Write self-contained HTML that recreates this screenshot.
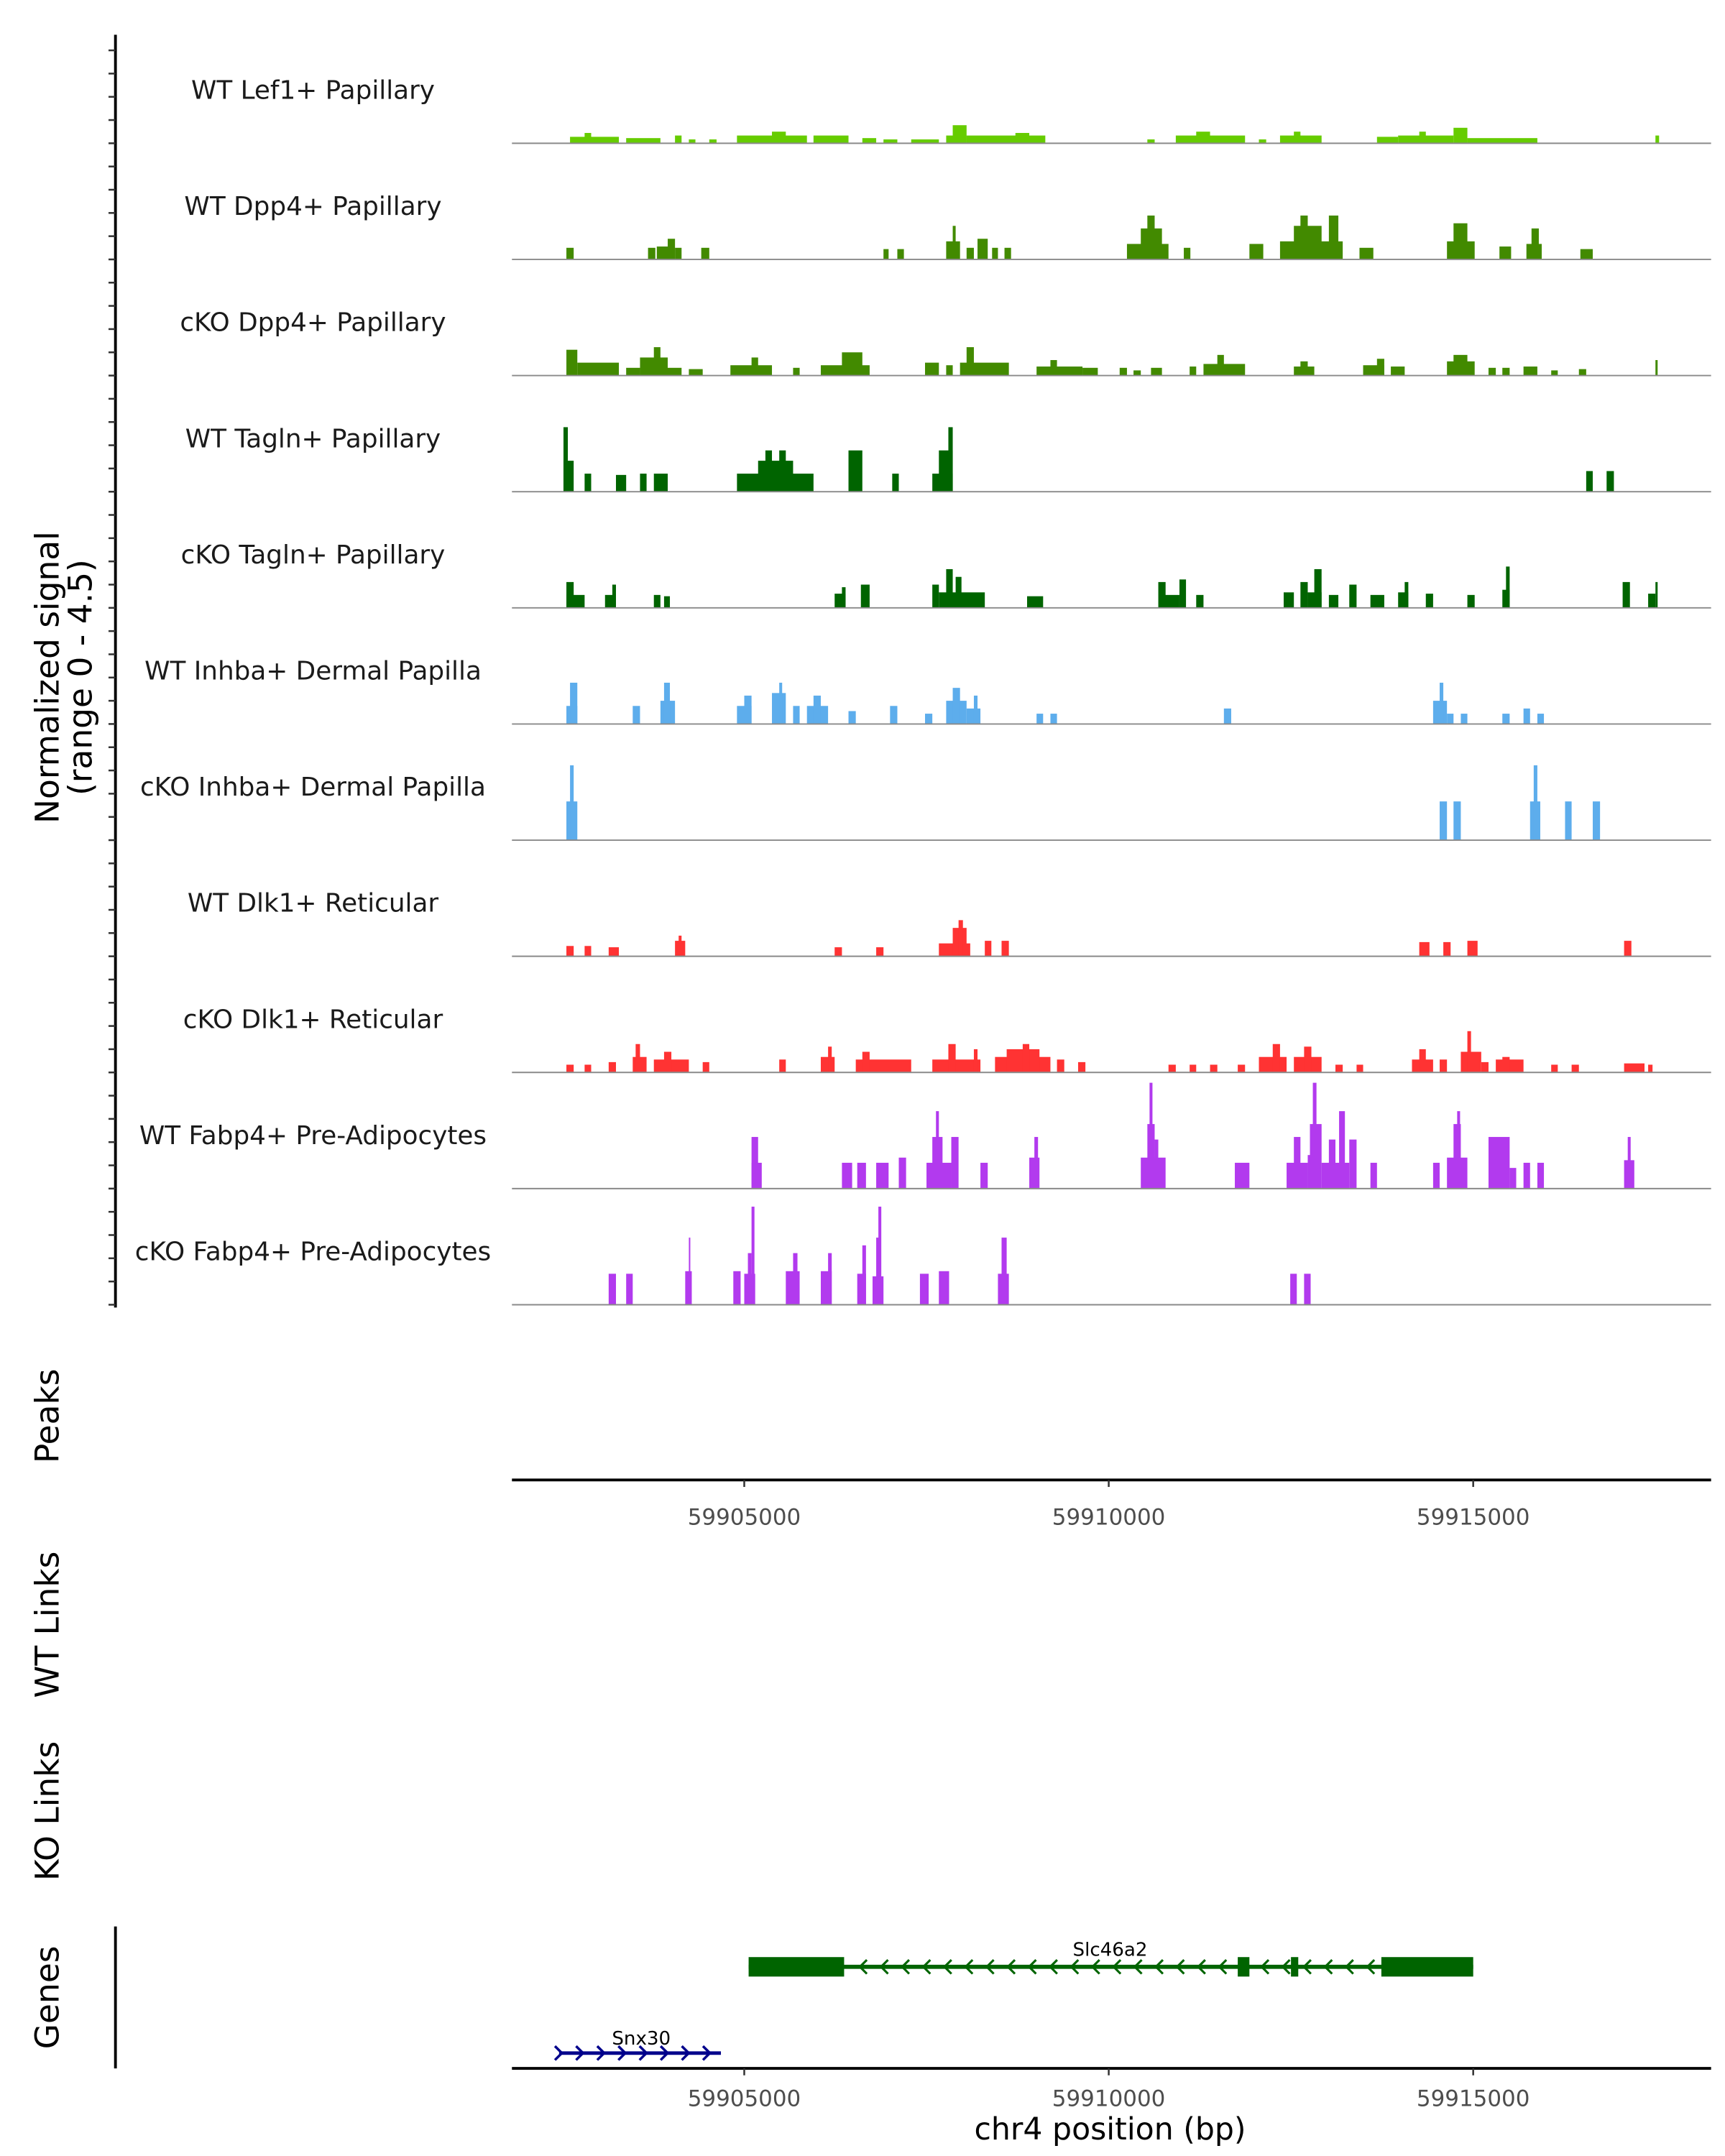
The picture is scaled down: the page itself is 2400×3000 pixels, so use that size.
<!DOCTYPE html>
<html><head><meta charset="utf-8"><style>html,body{margin:0;padding:0;background:#fff}svg{display:block}</style></head>
<body>
<svg id="chart" xmlns="http://www.w3.org/2000/svg" width="2400" height="3000" viewBox="0 0 1240 1550" font-family="DejaVu Sans, Liberation Sans, sans-serif">
<rect width="1240" height="1550" fill="#fff"/>
<g id="tracks"></g>
<g id="axes"></g>
<g id="genes"></g>
</svg>
<script>
// positions in kb offset from 59,900,000 bp; signal values in range 0-4.5
const trackNames = ["WT Lef1+ Papillary","WT Dpp4+ Papillary","cKO Dpp4+ Papillary","WT Tagln+ Papillary","cKO Tagln+ Papillary","WT Inhba+ Dermal Papilla","cKO Inhba+ Dermal Papilla","WT Dlk1+ Reticular","cKO Dlk1+ Reticular","WT Fabp4+ Pre-Adipocytes","cKO Fabp4+ Pre-Adipocytes"];
const trackColors = ["#66cc00","#428a00","#428a00","#006400","#006400","#5dadec","#5dadec","#ff3333","#ff3333","#b23aee","#b23aee"];
const sigLef1WT = [[2.61,3.28,0.25],[2.81,2.90,0.4],[3.38,3.85,0.2],[4.05,4.14,0.3],[4.24,4.33,0.15],[4.52,4.62,0.15],[4.90,5.86,0.3],[5.38,5.57,0.45],[5.95,6.43,0.3],[6.62,6.81,0.2],[6.91,7.10,0.15],[7.29,7.67,0.15],[7.77,8.05,0.3],[7.86,8.05,0.7],[8.05,9.13,0.3],[8.72,8.91,0.4],[10.53,10.63,0.15],[10.92,11.87,0.3],[11.20,11.39,0.45],[12.06,12.16,0.15],[12.35,12.92,0.3],[12.54,12.63,0.45],[13.68,13.97,0.25],[13.97,14.73,0.3],[14.26,14.35,0.45],[14.73,14.92,0.6],[14.92,15.88,0.2],[17.50,17.55,0.3]];
const sigDpp4WT = [[2.56,2.66,0.45],[3.68,3.78,0.45],[3.80,3.95,0.5],[3.95,4.05,0.8],[4.05,4.14,0.45],[4.41,4.52,0.45],[6.91,6.98,0.4],[7.10,7.19,0.4],[7.77,7.96,0.7],[7.86,7.90,1.3],[8.05,8.15,0.45],[8.20,8.34,0.8],[8.40,8.48,0.45],[8.57,8.66,0.45],[10.25,10.82,0.6],[10.44,10.73,1.2],[10.53,10.63,1.7],[11.03,11.12,0.45],[11.93,12.12,0.6],[12.35,13.21,0.7],[12.54,12.92,1.3],[12.63,12.73,1.7],[13.02,13.15,1.7],[13.44,13.63,0.45],[14.64,15.02,0.7],[14.73,14.92,1.4],[15.36,15.52,0.5],[15.73,15.94,0.6],[15.80,15.90,1.2],[16.47,16.64,0.4]];
const sigDpp4KO = [[2.56,2.71,1.0],[2.71,3.28,0.5],[3.38,3.57,0.3],[3.57,3.95,0.7],[3.76,3.85,1.1],[3.95,4.14,0.3],[4.24,4.43,0.25],[4.81,5.38,0.4],[5.10,5.19,0.7],[5.67,5.76,0.3],[6.05,6.72,0.4],[6.34,6.62,0.9],[7.48,7.67,0.5],[7.77,7.86,0.4],[7.96,8.63,0.5],[8.05,8.15,1.1],[9.01,9.64,0.35],[9.20,9.29,0.6],[9.64,9.85,0.3],[10.15,10.25,0.3],[10.34,10.44,0.2],[10.58,10.73,0.3],[11.11,11.20,0.35],[11.30,11.87,0.45],[11.49,11.58,0.8],[12.54,12.82,0.35],[12.63,12.73,0.55],[13.49,13.78,0.4],[13.68,13.78,0.65],[13.87,14.06,0.35],[14.64,15.02,0.55],[14.73,14.92,0.8],[15.21,15.31,0.3],[15.40,15.50,0.3],[15.69,15.88,0.35],[16.07,16.16,0.2],[16.45,16.55,0.25],[17.50,17.53,0.6]];
const sigTaglnWT = [[2.52,2.66,1.2],[2.52,2.58,2.5],[2.81,2.90,0.7],[3.24,3.38,0.65],[3.57,3.66,0.7],[3.76,3.95,0.7],[4.90,5.95,0.7],[5.19,5.67,1.2],[5.29,5.38,1.6],[5.48,5.57,1.6],[6.43,6.62,1.6],[7.03,7.12,0.7],[7.58,7.86,0.7],[7.67,7.86,1.6],[7.80,7.86,2.5],[16.55,16.64,0.8],[16.83,16.93,0.8]];
const sigTaglnKO = [[2.56,2.66,1.0],[2.56,2.81,0.5],[3.09,3.24,0.5],[3.19,3.24,0.9],[3.76,3.85,0.5],[3.90,3.98,0.45],[6.24,6.39,0.55],[6.34,6.39,0.8],[6.60,6.72,0.9],[7.58,7.67,0.9],[7.67,8.30,0.6],[7.77,7.86,1.5],[7.90,7.98,1.2],[8.88,9.10,0.45],[10.68,10.78,1.0],[10.73,10.97,0.5],[10.97,11.06,1.1],[11.20,11.30,0.5],[12.40,12.54,0.6],[12.63,12.73,1.0],[12.73,12.92,0.6],[12.82,12.92,1.5],[13.02,13.15,0.5],[13.30,13.40,0.9],[13.59,13.78,0.5],[13.97,14.11,0.6],[14.06,14.11,1.0],[14.35,14.45,0.55],[14.92,15.02,0.5],[15.40,15.50,0.7],[15.45,15.50,1.6],[17.05,17.15,1.0],[17.40,17.50,0.55],[17.50,17.53,1.0]];
const sigInhbaWT = [[2.56,2.71,0.7],[2.61,2.71,1.6],[3.47,3.57,0.7],[3.85,4.05,0.9],[3.90,3.98,1.6],[4.90,5.10,0.7],[5.00,5.10,1.1],[5.38,5.57,1.2],[5.48,5.52,1.6],[5.67,5.76,0.7],[5.86,6.15,0.7],[5.95,6.05,1.1],[6.43,6.53,0.5],[7.00,7.10,0.7],[7.48,7.58,0.4],[7.77,8.05,0.9],[7.86,7.96,1.4],[8.05,8.24,0.6],[8.15,8.20,1.1],[9.01,9.10,0.4],[9.20,9.29,0.4],[11.58,11.68,0.6],[14.45,14.64,0.9],[14.54,14.59,1.6],[14.64,14.73,0.4],[14.83,14.92,0.4],[15.40,15.50,0.4],[15.69,15.78,0.6],[15.88,15.97,0.4]];
const sigInhbaKO = [[2.56,2.71,1.5],[2.61,2.66,2.9],[14.54,14.64,1.5],[14.73,14.83,1.5],[15.78,15.92,1.5],[15.83,15.88,2.9],[16.26,16.35,1.5],[16.64,16.74,1.5]];
const sigDlk1WT = [[2.56,2.66,0.4],[2.81,2.90,0.4],[3.14,3.28,0.35],[4.05,4.19,0.6],[4.10,4.14,0.8],[6.24,6.34,0.35],[6.81,6.91,0.35],[7.67,8.10,0.5],[7.86,8.05,1.1],[7.94,8.00,1.4],[8.30,8.39,0.6],[8.53,8.63,0.6],[14.26,14.40,0.55],[14.59,14.69,0.55],[14.92,15.06,0.6],[17.07,17.17,0.6]];
const sigDlk1KO = [[2.56,2.66,0.3],[2.81,2.90,0.3],[3.14,3.24,0.4],[3.47,3.66,0.6],[3.51,3.57,1.1],[3.76,4.24,0.5],[3.90,4.00,0.8],[4.43,4.52,0.4],[5.48,5.57,0.5],[6.05,6.24,0.6],[6.15,6.20,1.0],[6.53,7.29,0.5],[6.62,6.72,0.8],[7.58,8.24,0.5],[7.80,7.90,1.1],[8.15,8.20,0.9],[8.44,9.20,0.6],[8.60,9.05,0.9],[8.82,8.91,1.1],[9.29,9.39,0.5],[9.58,9.68,0.4],[10.82,10.92,0.3],[11.11,11.20,0.3],[11.39,11.49,0.3],[11.77,11.87,0.3],[12.06,12.44,0.6],[12.25,12.35,1.1],[12.54,12.92,0.6],[12.68,12.78,1.0],[13.11,13.21,0.3],[13.40,13.49,0.3],[14.16,14.45,0.5],[14.26,14.35,0.9],[14.54,14.64,0.5],[14.83,15.11,0.8],[14.92,14.97,1.6],[15.11,15.21,0.4],[15.31,15.69,0.5],[15.40,15.50,0.6],[16.07,16.16,0.3],[16.35,16.45,0.3],[17.07,17.35,0.35],[17.40,17.46,0.3]];
const sigFabp4WT = [[5.10,5.24,1.0],[5.10,5.19,2.0],[6.34,6.48,1.0],[6.55,6.67,1.0],[6.81,6.98,1.0],[7.12,7.22,1.2],[7.50,7.84,1.0],[7.58,7.72,2.0],[7.63,7.67,3.0],[7.84,7.94,2.0],[8.24,8.34,1.0],[8.91,9.05,1.2],[8.98,9.03,2.0],[10.44,10.78,1.2],[10.53,10.63,2.5],[10.56,10.60,4.1],[10.63,10.68,1.9],[11.73,11.93,1.0],[12.44,12.73,1.0],[12.54,12.63,2.0],[12.73,12.87,1.3],[12.76,12.92,2.5],[12.80,12.85,4.1],[12.92,13.30,1.0],[13.02,13.11,1.9],[13.16,13.24,3.0],[13.30,13.40,1.9],[13.59,13.68,1.0],[14.45,14.54,1.0],[14.64,14.92,1.2],[14.73,14.83,2.5],[14.78,14.82,3.0],[15.21,15.50,2.0],[15.50,15.59,0.8],[15.69,15.78,1.0],[15.88,15.97,1.0],[17.07,17.21,1.1],[17.12,17.16,2.0]];
const sigFabp4KO = [[3.14,3.24,1.2],[3.38,3.47,1.2],[4.19,4.28,1.3],[4.24,4.26,2.6],[4.85,4.95,1.3],[5.00,5.15,1.2],[5.05,5.10,2.0],[5.10,5.14,3.8],[5.57,5.76,1.3],[5.67,5.73,2.0],[6.05,6.20,1.3],[6.15,6.20,2.0],[6.55,6.67,1.2],[6.62,6.67,2.3],[6.76,6.91,1.1],[6.81,6.86,2.6],[6.84,6.88,3.8],[7.41,7.53,1.2],[7.67,7.81,1.3],[8.48,8.63,1.2],[8.53,8.60,2.6],[12.49,12.58,1.2],[12.68,12.77,1.2]];
const signals = [sigLef1WT,sigDpp4WT,sigDpp4KO,sigTaglnWT,sigTaglnKO,sigInhbaWT,sigInhbaKO,sigDlk1WT,sigDlk1KO,sigFabp4WT,sigFabp4KO];
const xTicks = [5,10,15];
const xTickLabels = ["59905000","59910000","59915000"];
const slcExons = [[5.06,6.37],[11.77,11.93],[12.50,12.60],[13.74,15.00]];
const slcSpan = [5.06,15.00];
const snxSpan = [2.46,4.68];
const yMax = 4.5;

const NS = "http://www.w3.org/2000/svg";
const X0 = 368, X1 = 1230;
function xs(kb){ return 535 + (kb - 5) * 52.4; }
const trackH = 83.5, firstBase = 103;
function base(i){ return firstBase + i * trackH; }
function ys(v, i){ return base(i) - v / yMax * trackH; }
function mk(tag, attrs, parent){ const e = document.createElementNS(NS, tag); for (const k in attrs) e.setAttribute(k, attrs[k]); parent.appendChild(e); return e; }

const gT = document.getElementById("tracks");
signals.forEach((sig, i) => {
  const g = mk("g", {}, gT);
  
  
  const t = mk("text", {x:225, y:base(i)-32, "text-anchor":"middle", "font-size":18.5, fill:"#1a1a1a"}, g);
  t.textContent = trackNames[i];
  
  
  sig.forEach(p => {
    const r = mk("rect", {x:xs(p[0]), y:ys(p[2], i), width:Math.max(0.8, xs(p[1]) - xs(p[0])), height:base(i) - ys(p[2], i), fill:trackColors[i]}, g);
    
    
  });
  const l = mk("line", {x1:X0, x2:X1, y1:base(i), y2:base(i), stroke:"#8a8a8a", "stroke-width":1}, g);
  
  
});

const gA = document.getElementById("axes");
let ya = mk("line", {x1:83, x2:83, y1:25, y2:940, stroke:"#000", "stroke-width":2}, gA);


for (let j = 0; j <= 54; j++) {
  const yy = 938 - j * trackH / 5;
  if (yy < 27) break;
  const tk = mk("line", {x1:78, x2:83, y1:yy, y2:yy, stroke:"#333", "stroke-width":1.3}, gA);
  
  
}
function rotText(txt, x, y, name){
  const t = mk("text", {x:x, y:y, "text-anchor":"middle", "font-size":23.5, fill:"#000", transform:"rotate(-90 "+x+" "+y+")"}, gA);
  t.textContent = txt;
  
  
}
rotText("Normalized signal", 42, 487, "y-axis-title");
rotText("(range 0 - 4.5)", 66, 487, "y-axis-subtitle");
rotText("Peaks", 42, 1018, "peaks-label");
rotText("WT Links", 42, 1168, "wt-links-label");
rotText("KO Links", 42, 1302, "ko-links-label");
rotText("Genes", 42, 1436, "genes-label");
function xAxis(y, name, off){
  const a = mk("line", {x1:X0, x2:X1, y1:y, y2:y, stroke:"#000", "stroke-width":2}, gA);
  
  
  xTicks.forEach((v, k) => {
    const tk = mk("line", {x1:xs(v), x2:xs(v), y1:y, y2:y+5, stroke:"#333", "stroke-width":1.3}, gA);
    
    
    const tl = mk("text", {x:xs(v), y:y+off, "text-anchor":"middle", "font-size":16, fill:"#4d4d4d"}, gA);
    tl.textContent = xTickLabels[k];
    
    
  });
}
xAxis(1064, "peaks-x-axis", 32);
xAxis(1487, "genes-x-axis", 27);
const xt = mk("text", {x:798, y:1538, "text-anchor":"middle", "font-size":22, fill:"#000"}, gA);
xt.textContent = "chr4 position (bp)";


const ga = mk("line", {x1:83, x2:83, y1:1385, y2:1487, stroke:"#000", "stroke-width":2}, gA);



const gG = document.getElementById("genes");
const gs = mk("g", {}, gG);


mk("line", {x1:xs(slcSpan[0]), x2:xs(slcSpan[1]), y1:1414, y2:1414, stroke:"#006400", "stroke-width":3}, gs);
for (let x = xs(slcSpan[0]) + 82; x < xs(slcSpan[1]) - 70; x += 15.2) {
  mk("polyline", {points:(x+3)+",1409 "+(x-2)+",1414 "+(x+3)+",1419", fill:"none", stroke:"#006400", "stroke-width":1.6}, gs);
}
slcExons.forEach(e => {
  const r = mk("rect", {x:xs(e[0]), y:1407, width:xs(e[1])-xs(e[0]), height:14, fill:"#006400"}, gs);
  
  
});
const sl = mk("text", {x:798, y:1406, "text-anchor":"middle", "font-size":13.5, fill:"#000"}, gs);
sl.textContent = "Slc46a2";
const gn = mk("g", {}, gG);


mk("line", {x1:xs(snxSpan[0]), x2:xs(snxSpan[1]), y1:1476, y2:1476, stroke:"#00008b", "stroke-width":2.5}, gn);
for (let x = xs(snxSpan[0]); x <= xs(snxSpan[1]) + 0.5; x += 15.2) {
  mk("polyline", {points:(x-3)+",1471 "+(x+2)+",1476 "+(x-3)+",1481", fill:"none", stroke:"#00008b", "stroke-width":1.8}, gn);
}
const sn = mk("text", {x:461, y:1470, "text-anchor":"middle", "font-size":13.5, fill:"#000"}, gn);
sn.textContent = "Snx30";
</script>
</body></html>
